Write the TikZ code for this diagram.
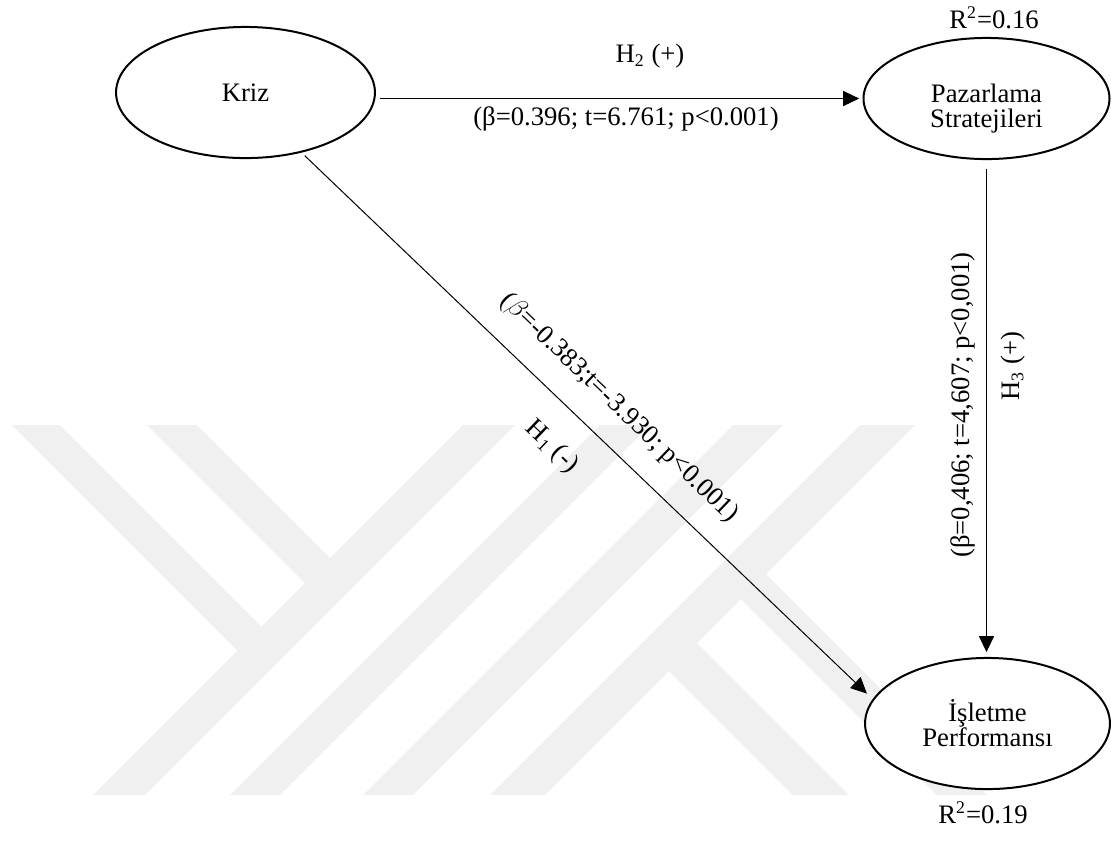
\documentclass[tikz,border=0pt]{standalone}
\usepackage{fontspec}
\setmainfont{Liberation Serif}
\usepackage{tikz}
\usetikzlibrary{arrows.meta, shapes.geometric, positioning}
\tikzset{
	construct/.style={ellipse, draw, line width=0.9pt, fill=white, inner sep=0pt, align=center},
	link/.style={draw, line width=0.45pt, -{Triangle[length=7.2pt, width=6.8pt]}},
	coef/.style={inner sep=0pt},
	band/.style={fill=black!6, draw=none}
}

\begin{document}
\begin{tikzpicture}[x=0.45pt, y=-0.45pt, font=\fontsize{12}{11.2}\selectfont]
			\useasboundingbox (0,0) rectangle (1111,840);
			% Watermark
			\fill[band] (12,425) -- (60,425) -- (275,640) -- (251,664) -- cycle;
			\fill[band] (147,425) -- (197,425) -- (345,573) -- (320,598) -- cycle;
			\fill[band] (93,795) -- (463,425) -- (515,425) -- (145,795) -- cycle;
			\fill[band] (230,795) -- (600,425) -- (650,425) -- (280,795) -- cycle;
			\fill[band] (363,795) -- (733,425) -- (783,425) -- (413,795) -- cycle;
			\fill[band] (490,795) -- (860,425) -- (915,425) -- (545,795) -- cycle;
			\fill[band] (655,657) -- (682,628) -- (849,795) -- (793,795) -- cycle;
			\fill[band] (730,588) -- (755,563) -- (987,795) -- (937,795) -- cycle;
			
			% Constructs
			\node[construct, minimum width=116.5pt, minimum height=59pt] (kriz) at (245.5,92.5) {Kriz};
			\node[construct, minimum width=110.7pt, minimum height=54.5pt,
				label={[name=paz-t, align=center, yshift=-4.5pt]center:Pazarlama\\Stratejileri}] (paz) at (986.5,98.5) {};
			\node[construct, minimum width=110.2pt, minimum height=59pt] (isp) at (987.5,723.5) {İşletme\\Performansı};
			\node (r2-paz) at (994,18) {R\textsuperscript{2}=0.16};
			\node (r2-isp) at (983,813) {R\textsuperscript{2}=0.19};
			
			% Path coefficients
			\node[coef] (h2) at (650,56) {H\textsubscript{2} (+)};
			\node[coef] (b2) at (626,119) {(β=0.396; t=6.761; p<0.001)};
			\node[coef, rotate=90] (b3) at (963,405) {(β=0,406; t=4,607; p<0,001)};
			\node[coef, rotate=90] (h3) at (1013,366) {H\textsubscript{3} (+)};
			\node[coef, rotate=-43.8] (b1) at (619,408) {($\beta$=-0.383;t=-3.930; p<0.001)};
			\node[coef, rotate=-43.8] (h1) at (552,447) {H\textsubscript{1} (-)};
			
			% Connections
			\draw[link, shorten <=1.8pt, shorten >=1.5pt] (kriz.east |- paz.west) -- (paz.west);
			\draw[link, shorten <=4pt, shorten >=2.2pt] (paz.south) -- (paz.south |- isp.north);
			\draw[link, shorten <=2pt, shorten >=3.6pt] (kriz.-47) -- (isp.168);
		\end{tikzpicture}
\end{document}
